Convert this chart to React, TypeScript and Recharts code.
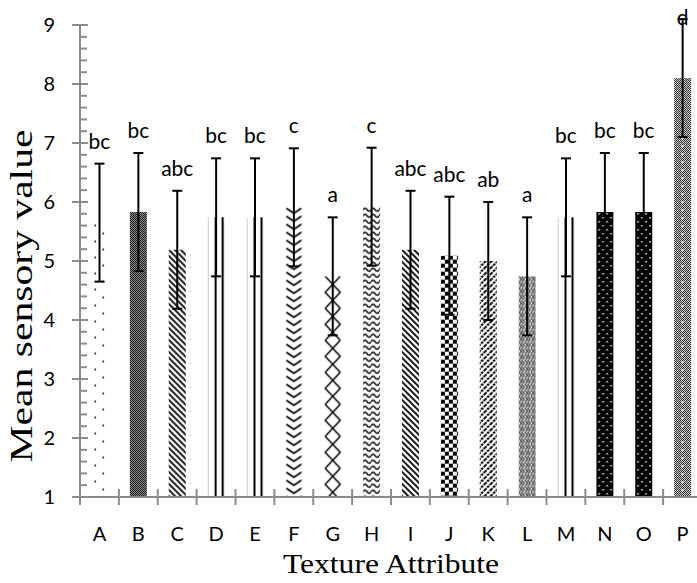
import React from 'react';
import { BarChart, Bar, XAxis, YAxis, ErrorBar, LabelList, Label } from 'recharts';

const categories = ['A', 'B', 'C', 'D', 'E', 'F', 'G', 'H', 'I', 'J', 'K', 'L', 'M', 'N', 'O', 'P'];
const means = [5.65, 5.83, 5.19, 5.74, 5.74, 5.91, 4.74, 5.92, 5.19, 5.09, 5.0, 4.74, 5.74, 5.83, 5.83, 8.1];
const errors = [1.0, 1.0, 1.0, 1.0, 1.0, 1.0, 1.0, 1.0, 1.0, 1.0, 1.0, 1.0, 1.0, 1.0, 1.0, 1.0];
const groups = ['bc', 'bc', 'abc', 'bc', 'bc', 'c', 'a', 'c', 'abc', 'abc', 'ab', 'a', 'bc', 'bc', 'bc', 'd'];
const fills = [
  'dots', 'fineChecker', 'diagDown', 'vertical', 'vertical', 'chevron', 'diamond', 'wave',
  'diagDown', 'bigChecker', 'diagUpDashed', 'weave', 'vertical', 'blackDots', 'blackDots', 'grayDots',
];
const yLabels = [1, 2, 3, 4, 5, 6, 7, 8, 9];
const yTicks = [
  1, 1.2, 1.4, 1.6, 1.8, 2, 2.2, 2.4, 2.6, 2.8, 3, 3.2, 3.4, 3.6, 3.8, 4, 4.2, 4.4, 4.6, 4.8, 5,
  5.2, 5.4, 5.6, 5.8, 6, 6.2, 6.4, 6.6, 6.8, 7, 7.2, 7.4, 7.6, 7.8, 8, 8.2, 8.4, 8.6, 8.8, 9,
];

const data = categories.map((name, i) => ({ name, mean: means[i], err: errors[i], group: groups[i] }));

const yMin = yLabels[0];
const yMax = yLabels[yLabels.length - 1];
const AXIS = '#8c8c8c';
const SANS = 'Lato, "Open Sans", sans-serif';
const SERIF = '"Liberation Serif", "Times New Roman", serif';

function makePattern(kind: string, id: string, x: number, y: number, w: number) {
  const tile = (tw: number, th: number, children: React.ReactNode, bg = '#fff') => (
    <pattern id={id} patternUnits="userSpaceOnUse" x={x} y={y} width={tw} height={th}>
      <rect width={tw} height={th} fill={bg} />
      {children}
    </pattern>
  );
  const ink = { stroke: '#000', fill: 'none' };
  switch (kind) {
    case 'dots':
      return tile(16, 16, <>
        <rect x={3.5} y={2} width={1.6} height={1.6} fill="#000" />
        <rect x={11.5} y={10} width={1.6} height={1.6} fill="#000" />
      </>);
    case 'fineChecker':
      return tile(2, 2, <>
        <rect x={0} y={0} width={1} height={1} fill="#000" />
        <rect x={1} y={1} width={1} height={1} fill="#000" />
      </>, '#a8a8a8');
    case 'diagDown':
      return tile(6, 6, <path d="M-1,-1 L7,7 M-1,5 L1,7 M5,-1 L7,1" {...ink} strokeWidth={1.8} />);
    case 'vertical':
      return tile(w, 10, <>
        <rect x={0} y={0} width={1} height={10} fill="#bdbdbd" />
        <rect x={7} y={0} width={2} height={10} fill="#000" />
        <rect x={14} y={0} width={2} height={10} fill="#000" />
      </>);
    case 'chevron':
      return tile(w, 8, <path d={`M1,1 L${w / 2},6 L${w - 1},1`} {...ink} strokeWidth={1.6} />);
    case 'diamond':
      return tile(w, 32, <path d={`M1,0 L${w - 1},16 L1,32 M${w - 1},0 L1,16 L${w - 1},32`} {...ink} strokeWidth={1.5} />);
    case 'wave':
      return tile(8, 6, <path d="M0,3 Q2,0 4,3 Q6,6 8,3" {...ink} strokeWidth={1.4} />);
    case 'bigChecker':
      return tile(8, 8, <>
        <rect x={0} y={0} width={4} height={4} fill="#000" />
        <rect x={4} y={4} width={4} height={4} fill="#000" />
      </>);
    case 'diagUpDashed':
      return tile(6, 6, <path d="M-1,7 L7,-1 M-1,1 L1,-1 M5,7 L7,5" {...ink} strokeWidth={2} strokeDasharray="2.5 1" />);
    case 'weave':
      return tile(6, 6, <path d="M0,0 L3,3 L0,6 M3,0 L6,3 L3,6" {...ink} strokeWidth={1.5} strokeDasharray="1.4 0.6" />);
    case 'blackDots':
      return tile(8, 8, <>
        <rect x={2} y={1} width={1.5} height={1.5} fill="#fff" />
        <rect x={6} y={5} width={1.5} height={1.5} fill="#fff" />
      </>, '#000');
    case 'grayDots':
      return tile(w, 8, <>
        <rect width={w} height={8} fill="url(#checker-fine)" />
        <rect x={w / 2 - 1} y={3} width={2} height={2} fill="#fff" />
      </>);
    default:
      return tile(4, 4, null);
  }
}

function PatternBar(props: any) {
  const { x, y, width, height } = props;
  const index = props.index ?? categories.indexOf(props.payload?.name ?? props.name);
  if (!height || height <= 0) return null;
  const id = `bar-fill-${index}`;
  return (
    <g>
      <defs>{makePattern(fills[index], id, x, y, width)}</defs>
      <rect x={x} y={y} width={width} height={height} fill={`url(#${id})`} />
    </g>
  );
}

function GroupLabel(props: any) {
  const vb = props.viewBox && props.viewBox.height ? props.viewBox : props;
  const index = props.index;
  const mean = means[index];
  const err = errors[index];
  const pxPerUnit = vb.height / (mean - yMin);
  const cx = vb.x + vb.width / 2;
  let base;
  if (mean + err > yMax) {
    base = vb.y - (yMax - mean) * pxPerUnit;
  } else {
    base = vb.y - err * pxPerUnit - 15;
  }
  return (
    <text x={cx} y={base} textAnchor="middle" fontFamily={SANS} fontSize={21} fill="#000">
      {groups[index]}
    </text>
  );
}

function YTick(props: any) {
  const { x, y, payload } = props;
  const v = payload.value;
  const major = Math.abs(v - Math.round(v)) < 1e-6;
  return (
    <g>
      {major ? (
        <line x1={x - 8} x2={x + 8} y1={y} y2={y} stroke={AXIS} strokeWidth={2} />
      ) : (
        <line x1={x} x2={x + 7} y1={y} y2={y} stroke={AXIS} strokeWidth={2} />
      )}
      {major && (
        <text x={x - 25} y={y} dy="0.36em" textAnchor="end" fontFamily={SANS} fontSize={20} fill="#000">
          {Math.round(v)}
        </text>
      )}
    </g>
  );
}

function XTick(props: any) {
  const { x, y, payload } = props;
  const half = payload.offset ?? 19.4;
  const last = payload.index === categories.length - 1;
  return (
    <g>
      <line x1={x - half} x2={x - half} y1={y - 8} y2={y + 8} stroke={AXIS} strokeWidth={2} />
      {last && <line x1={x + half} x2={x + half} y1={y - 8} y2={y + 8} stroke={AXIS} strokeWidth={2} />}
      <text x={x} y={y + 44} textAnchor="middle" fontFamily={SANS} fontSize={20} fill="#000">
        {payload.value}
      </text>
    </g>
  );
}

function XTitle(props: any) {
  const vb = props.viewBox;
  const cx = vb.x + vb.width / 2;
  return (
    <text x={cx} y={vb.y + 76} textAnchor="middle" fontFamily={SERIF} fontSize={27} fill="#000"
      textLength={216} lengthAdjust="spacingAndGlyphs">
      Texture Attribute
    </text>
  );
}

function YTitle(props: any) {
  const vb = props.viewBox;
  const bx = vb.x + 32;
  const cy = vb.y + vb.height / 2 + 35;
  return (
    <text x={bx} y={cy} transform={`rotate(-90, ${bx}, ${cy})`} textAnchor="middle" fontFamily={SERIF}
      fontSize={31} fill="#000" textLength={333} lengthAdjust="spacingAndGlyphs">
      Mean sensory value
    </text>
  );
}

export default function App() {
  return (
    <div style={{ position: 'fixed', left: 0, top: 0, width: 697, height: 583, overflow: 'hidden', background: '#fff' }}>
      <BarChart width={720} height={583} data={data} margin={{ top: 25, right: 18, bottom: 0, left: 0 }}>
        <defs>
          <pattern id="checker-fine" patternUnits="userSpaceOnUse" width={2} height={2}>
            <rect width={2} height={2} fill="#fff" />
            <rect x={0} y={0} width={1} height={1} fill="#000" />
            <rect x={1} y={1} width={1} height={1} fill="#000" />
          </pattern>
        </defs>
        <XAxis dataKey="name" interval={0} height={86} tickSize={0} tickMargin={0} tickLine={false}
          axisLine={{ stroke: AXIS, strokeWidth: 2 }} tick={<XTick />}>
          <Label content={<XTitle />} />
        </XAxis>
        <YAxis type="number" domain={[yMin, yMax]} allowDataOverflow ticks={yTicks} interval={0} width={80}
          tickSize={0} tickMargin={0} tickLine={false} axisLine={{ stroke: AXIS, strokeWidth: 2 }} tick={<YTick />}>
          <Label content={<YTitle />} />
        </YAxis>
        <Bar dataKey="mean" barSize={17} isAnimationActive={false} shape={<PatternBar />}>
          <ErrorBar dataKey="err" width={5} stroke="#000" strokeWidth={2} direction="y" isAnimationActive={false} />
          <LabelList dataKey="group" content={<GroupLabel />} />
        </Bar>
      </BarChart>
    </div>
  );
}
